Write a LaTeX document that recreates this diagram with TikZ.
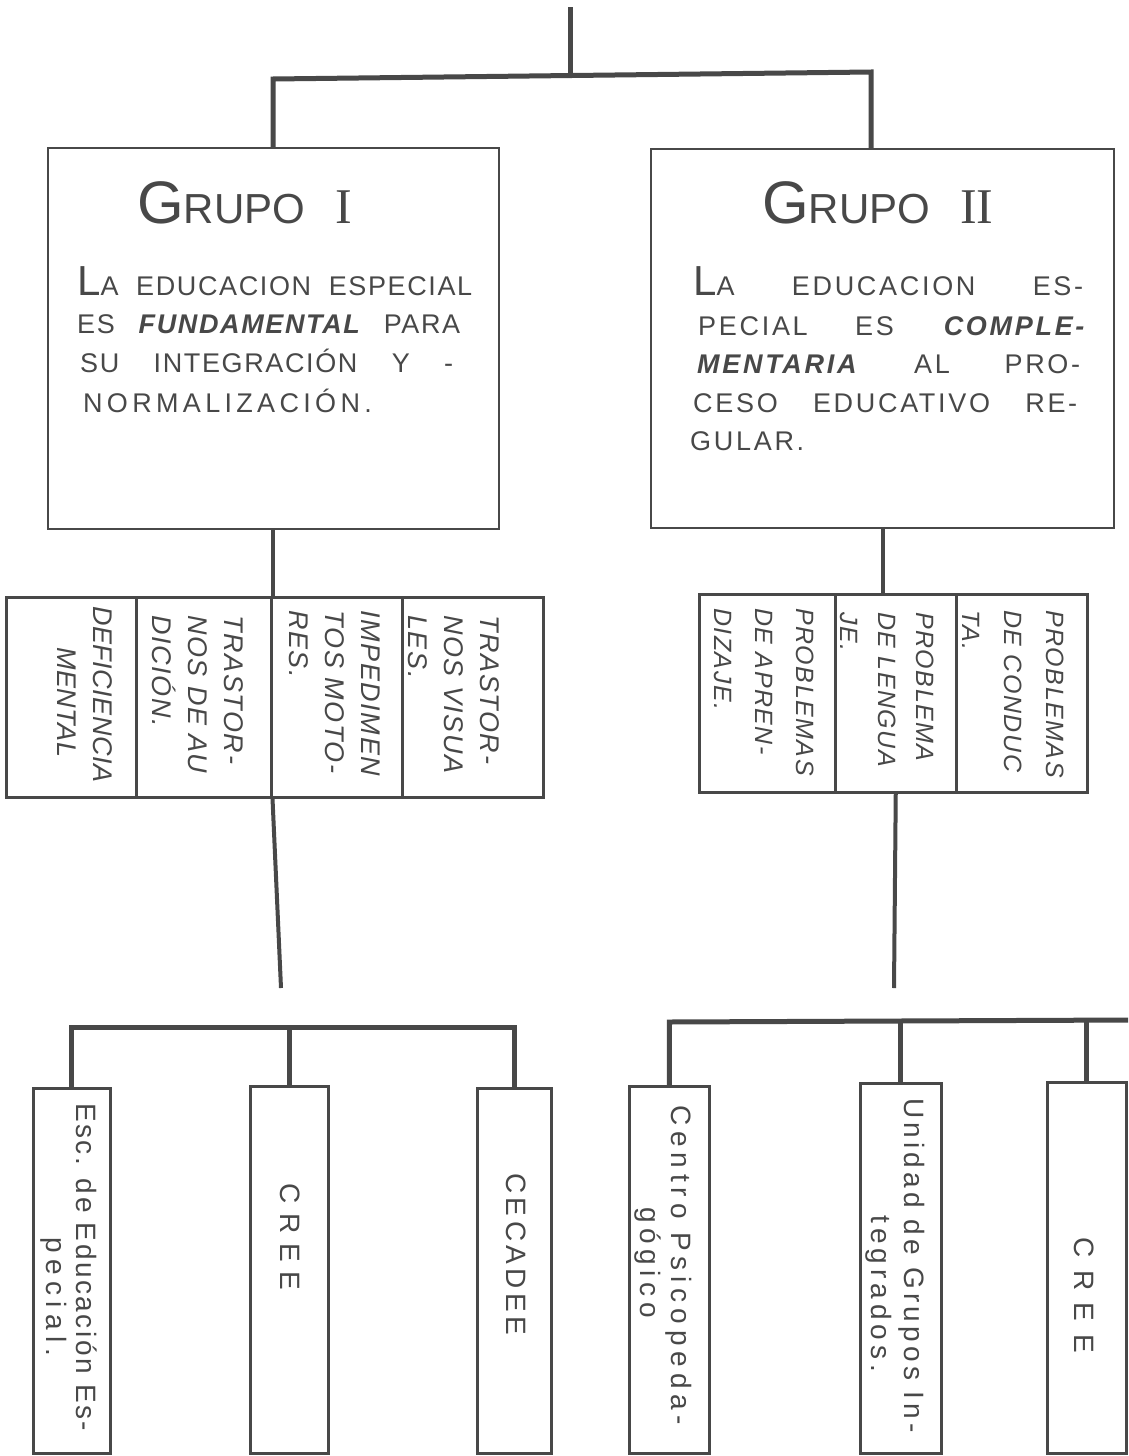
\documentclass[tikz,border=0pt]{standalone}
\usepackage{fontspec}
\setmainfont{Liberation Sans}
\newfontfamily\serifI{Liberation Serif}
\newfontfamily\bodyI[LetterSpace=6]{Liberation Sans}
\newfontfamily\bodyII[LetterSpace=10]{Liberation Sans}
\newfontfamily\catf[LetterSpace=6]{Liberation Sans}
\newfontfamily\catg[LetterSpace=2]{Liberation Sans}
\definecolor{ink}{HTML}{484848}
\newcommand{\spreadto}[2]{\makebox[#1][s]{#2}}
\newcommand{\bigL}{{\fontsize{42}{42}\selectfont L}}
\newcommand{\grtitle}[1]{{\fontsize{60}{60}\selectfont G}{\fontsize{42}{44}\selectfont RUPO}\hspace{30pt}{\serifI\fontsize{50}{52}\selectfont #1}}
\begin{document}
\begin{tikzpicture}[x=1pt,y=-1pt,
  box/.style={draw=ink,line width=2.2pt,inner sep=0pt,anchor=north west},
  bar/.style={draw=ink,line width=5pt,line join=miter},
  link/.style={draw=ink,line width=4pt},
  txt/.style={inner sep=0pt,text=ink,anchor=base west},
  vt/.style={inner sep=0pt,text=ink,rotate=-90},
  catL/.style={vt,anchor=north west,align=left,font=\catf\itshape\fontsize{27}{36}\selectfont},
  catR/.style={vt,anchor=north west,align=left,font=\catf\itshape\fontsize{25}{#1}\selectfont},
  lsp/.style={vt,anchor=base west,font=\fontsize{28}{32}\selectfont\addfontfeature{LetterSpace=#1}},
]
\useasboundingbox[fill=white] (0,0) rectangle (1128,1456);

% group boxes
\node[box,minimum width=451pt,minimum height=381pt] (g1) at (47,147) {};
\node[box,minimum width=463pt,minimum height=379pt] (g2) at (650,148) {};

% category columns
\node[box,line width=2.5pt,minimum width=130pt,minimum height=200pt] (c1a) at (5,596) {};
\node[box,line width=2.5pt,minimum width=135pt,minimum height=200pt] (c1b) at (135,596) {};
\node[box,line width=2.5pt,minimum width=131pt,minimum height=200pt] (c1c) at (270,596) {};
\node[box,line width=2.5pt,minimum width=141pt,minimum height=200pt] (c1d) at (401,596) {};
\node[box,line width=2.5pt,minimum width=136pt,minimum height=198pt] (c2a) at (698,593) {};
\node[box,line width=2.5pt,minimum width=121pt,minimum height=198pt] (c2b) at (834,593) {};
\node[box,line width=2.5pt,minimum width=131pt,minimum height=198pt] (c2c) at (955,593) {};

% bottom boxes
\node[box,line width=2.5pt,minimum width=77pt,minimum height=365pt] (b1) at (32,1087) {};
\node[box,line width=2.5pt,minimum width=78pt,minimum height=367pt] (b2) at (249,1085) {};
\node[box,line width=2.5pt,minimum width=74pt,minimum height=365pt] (b3) at (476,1087) {};
\node[box,line width=2.5pt,minimum width=80pt,minimum height=367pt] (b4) at (628,1085) {};
\node[box,line width=2.5pt,minimum width=81pt,minimum height=370pt] (b5) at (859,1082) {};
\node[box,line width=2.5pt,minimum width=79pt,minimum height=371pt] (b6) at (1046,1081) {};

% top connectors
\coordinate (top) at (570,7);
\coordinate (jt) at (570,76);
\coordinate (jl) at (273,79);
\coordinate (jr) at (871,72);
\draw[bar] (top) -- (jt);
\draw[bar] (jl |- g1.north) -- (jl) -- (jr) -- (jr |- g2.north);

% group -> categories
\draw[link] (g1.south -| c1b.north east) -- (c1b.north east);
\draw[link] (g2.south) -- (g2.south |- c2b.north);

% categories -> free ends
\coordinate (le) at (281,988);
\coordinate (re) at (894,988);
\draw[link] (c1b.south east) -- (le);
\draw[link] (c2b.south) -- (re);

% bottom bars
\draw[bar] (b1.north) -- ++(0,-60) -| (b3.north);
\draw[bar] (b2.north) -- ++(0,-60);
\coordinate (rend) at (1128,1020);
\draw[bar] (b4.north) -- ++(0,-63) coordinate (rb) -- (rend);
\draw[bar] (b5.north) -- (b5.north |- rb);
\draw[bar] (b6.north) -- (b6.north |- rb);

% titles
\node[txt] (t1) at (137,223) {\grtitle{I}};
\node[txt] (t2) at (762,223) {\grtitle{II}};

% Grupo I body
\begin{scope}[every node/.append style={font=\bodyI\fontsize{27}{32}\selectfont}]
\node[txt] (g1l1) at (77,295) {\spreadto{395pt}{\bigL A EDUCACION ESPECIAL}};
\node[txt] (g1l2) at (77,333) {\spreadto{383pt}{ES \textbf{\textit{FUNDAMENTAL}} PARA}};
\node[txt] (g1l3) at (80,372) {\spreadto{373pt}{SU INTEGRACIÓN Y -}};
\node[txt] (g1l4) at (83,412) {\addfontfeature{LetterSpace=16}NORMALIZACIÓN.};
\end{scope}

% Grupo II body
\begin{scope}[every node/.append style={font=\bodyII\fontsize{27}{32}\selectfont}]
\node[txt] (g2l1) at (693,295) {\spreadto{390pt}{\bigL A EDUCACION ES-}};
\node[txt] (g2l2) at (698,335) {\spreadto{389pt}{PECIAL ES \textbf{\textit{COMPLE-}}}};
\node[txt] (g2l3) at (697,373) {\spreadto{383pt}{\textbf{\textit{MENTARIA}} AL PRO-}};
\node[txt] (g2l4) at (693,412) {\spreadto{384pt}{CESO EDUCATIVO RE-}};
\node[txt] (g2l5) at (690,450) {GULAR.};
\end{scope}

% category texts
\node[catL,font=\catg\itshape\fontsize{27}{36}\selectfont] (c1at) at (113,606) {DEFICIENCIA\\\hspace*{41pt}MENTAL};
\node[catL] (c1bt) at (244,615) {TRASTOR-\\NOS DE AU\\DICIÓN.};
\node[catL] (c1ct) at (380,610) {IMPEDIMEN\\TOS MOTO-\\RES.};
\node[catL] (c1dt) at (500,615) {TRASTOR-\\NOS VISUA\\LES.};
\node[catR=41] (c2at) at (814,608) {PROBLEMAS\\DE APREN-\\DIZAJE.};
\node[catR=38] (c2bt) at (934,612) {PROBLEMA\\DE LENGUA\\JE.};
\node[catR=42] (c2ct) at (1064,610) {PROBLEMAS\\DE CONDUC\\TA.};

% bottom texts
\node[lsp=9] (b1t1) at (76,1103) {Esc. de Educación Es-};
\node[lsp=23] (b1t2) at (46,1237) {pecial.};
\node[lsp=35] (b2t) at (280,1183) {CREE};
\node[lsp=16] (b3t) at (506,1173) {CECADEE};
\node[lsp=21] (b4t1) at (671,1105) {Centro Psicopeda-};
\node[lsp=20] (b4t2) at (640,1207) {gógico};
\node[lsp=15] (b5t1) at (904,1098) {Unidad de Grupos In-};
\node[lsp=18] (b5t2) at (871,1215) {tegrados.};
\node[lsp=45] (b6t) at (1074,1237) {CREE};
\end{tikzpicture}
\end{document}
